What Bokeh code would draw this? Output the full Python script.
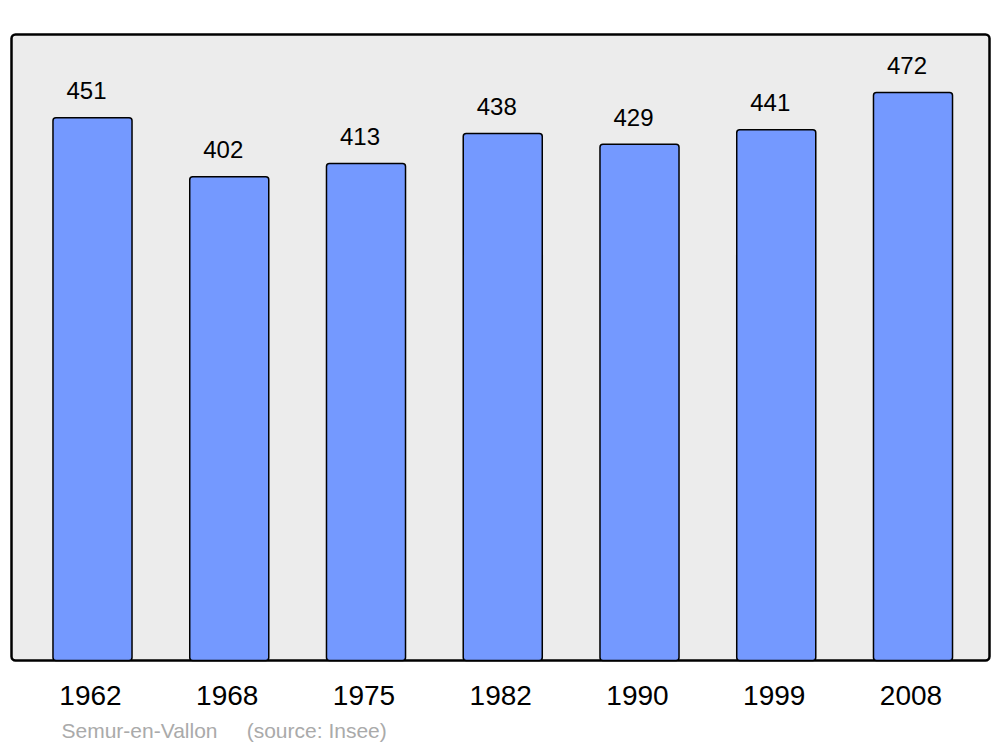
from bokeh.plotting import figure
from bokeh.models import ColumnDataSource, LabelSet, Label, Range1d
from bokeh.core.properties import value
from bokeh.embed import file_html
from bokeh.resources import INLINE

years = ["1962", "1968", "1975", "1982", "1990", "1999", "2008"]
population = [451, 402, 413, 438, 429, 441, 472]
caption = "Semur-en-Vallon\u00a0\u00a0\u00a0\u00a0\u00a0(source: Insee)"

W, H = 1000, 747
# pixel layout (styles, not data)
step_px = 136.75          # distance between bar centres
first_px = 92.0           # centre of first bar from left
base_px = 660.0           # baseline from top
px_per_unit = 1.2034
panel_l, panel_r, panel_t = 11.0, 989.0, 34.0

x0 = -first_px / step_px
x1 = (W - first_px) / step_px
y0 = -(H - base_px) / px_per_unit
y1 = base_px / px_per_unit

idx = list(range(len(years)))
src = ColumnDataSource(dict(x=idx, top=population, years=years,
                            lbl=[str(v) for v in population],
                            base=[0] * len(years)))

p = figure(width=W, height=H, output_backend="svg", toolbar_location=None,
           x_range=Range1d(x0, x1), y_range=Range1d(y0, y1),
           min_border=0)
p.xaxis.visible = False
p.yaxis.visible = False
p.xgrid.visible = False
p.ygrid.visible = False
p.background_fill_color = "white"
p.border_fill_color = "white"
p.outline_line_color = None

# panel
p.quad(left=[(panel_l - first_px) / step_px], right=[(panel_r - first_px) / step_px],
       bottom=[0], top=[(base_px - panel_t) / px_per_unit],
       fill_color="#ECECEC", line_color="black", line_width=2.5, border_radius=4)

p.vbar(x="x", top="top", bottom=0, width=0.578, source=src,
       fill_color="#7499FF", line_color="black", line_width=1.5, border_radius=3)

vals = LabelSet(x="x", y="top", text="lbl", source=src, x_offset=-6, y_offset=27,
                text_align="center", text_baseline="middle",
                text_font=value("Liberation Sans"), text_font_size="24px", text_color="black")
p.add_layout(vals)

yl = LabelSet(x="x", y="base", text="years", source=src, x_offset=-2, y_offset=-35,
              text_align="center", text_baseline="middle",
              text_font=value("Liberation Sans"), text_font_size="28px", text_color="black")
p.add_layout(yl)

cap = Label(x=61, y=H - 730, x_units="screen", y_units="screen", text=caption,
            text_align="left", text_baseline="middle",
            text_font="Liberation Sans", text_font_size="21px", text_color="#AAAAAA")
p.add_layout(cap)

open("out.html", "w").write(file_html(p, INLINE))
